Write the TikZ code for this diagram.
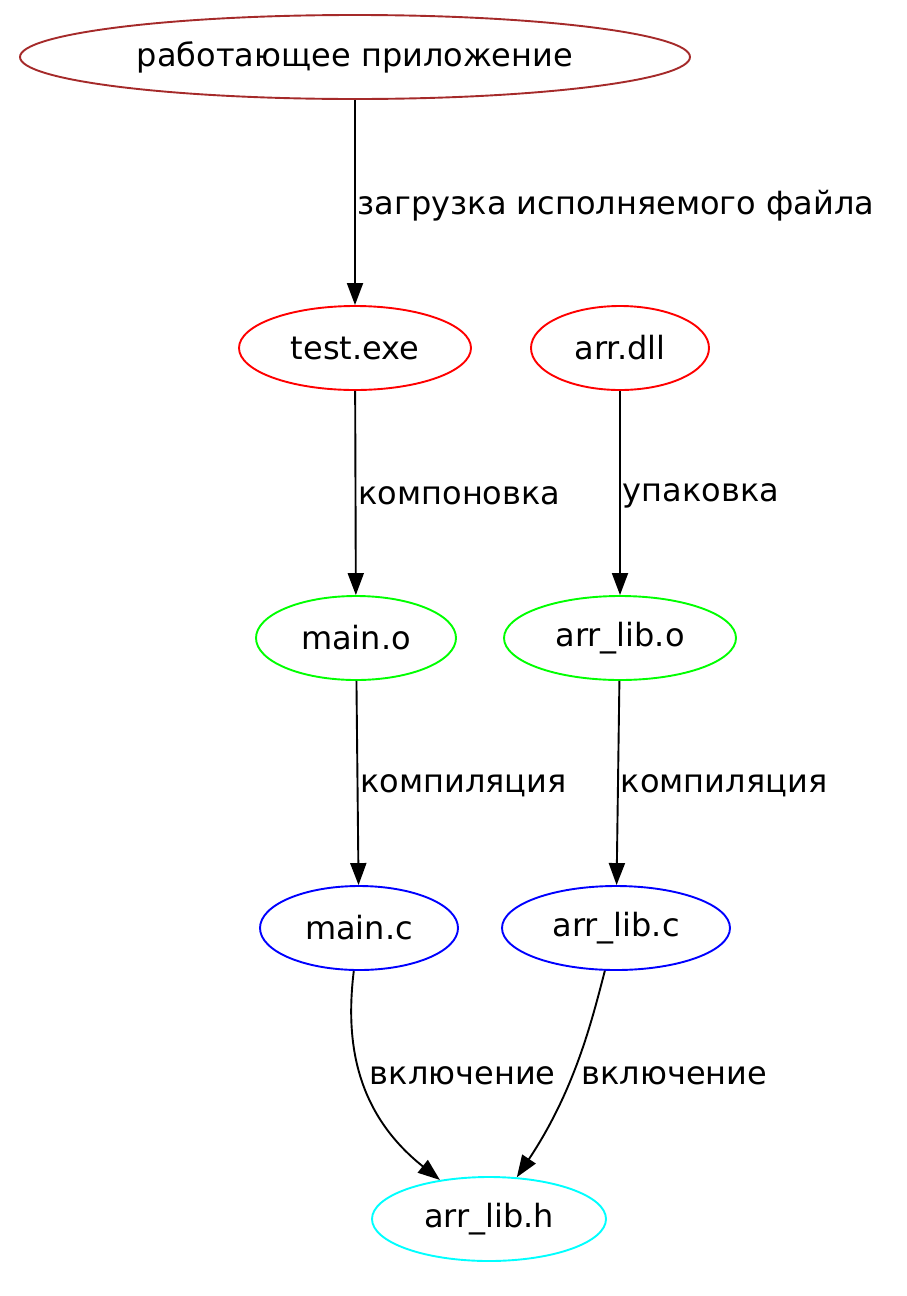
\documentclass[tikz,border=0pt]{standalone}
\usepackage{fontspec}
\setmainfont{DejaVu Sans}
\usetikzlibrary{arrows.meta,shapes.geometric}
\definecolor{gvbrown}{HTML}{A52A2A}
\definecolor{gvcyan}{HTML}{00FFFF}
\tikzset{file/.style = {ellipse, draw, line width=1.9pt, minimum height=84pt, inner sep=0pt,
                        font=\fontsize{32}{32}\selectfont},
         edge/.style = {line width=1.9pt, -{Triangle[length=22pt,width=16pt]}},
         lbl/.style = {anchor=west, inner sep=2pt, yshift=-3pt, font=\fontsize{32}{32}\selectfont}}

\begin{document}
\begin{tikzpicture}[x=1pt,y=-1pt]
\useasboundingbox (0,0) rectangle (906,1296);
% nodes
\node[file, draw=gvbrown, minimum width=670pt] (app) at (355,57) {работающее приложение};
\node[file, draw=red, minimum width=232pt] (exe) at (355,348) {test.exe};
\node[file, draw=red, minimum width=178pt] (dll) at (620,348) {arr.dll};
\node[file, draw=green, minimum width=200pt] (maino) at (356,638) {main.o};
\node[file, draw=green, minimum width=232pt] (libo) at (620,638) {arr\_lib.o};
\node[file, draw=blue, minimum width=198pt] (mainc) at (359,928) {main.c};
\node[file, draw=blue, minimum width=228pt] (libc) at (616,928) {arr\_lib.c};
\node[file, draw=gvcyan, minimum width=234pt] (libh) at (489,1219) {arr\_lib.h};
% edges
\draw[edge] (app) -- (exe) node[lbl, midway] {загрузка исполняемого файла};
\draw[edge] (exe) -- (maino) node[lbl, midway] {компоновка};
\draw[edge] (dll) -- (libo) node[lbl, midway] {упаковка};
\draw[edge] (maino) -- (mainc) node[lbl, midway] {компиляция};
\draw[edge] (libo) -- (libc) node[lbl, midway] {компиляция};
\draw[edge] (mainc) .. controls (346,1035) and (352,1110) .. (libh)
  node[lbl, pos=0.5, xshift=6pt] {включение};
\draw[edge] (libc) .. controls (592,1020) and (575,1090) .. (libh)
  node[lbl, pos=0.56, xshift=6pt] {включение};
\end{tikzpicture}
\end{document}
